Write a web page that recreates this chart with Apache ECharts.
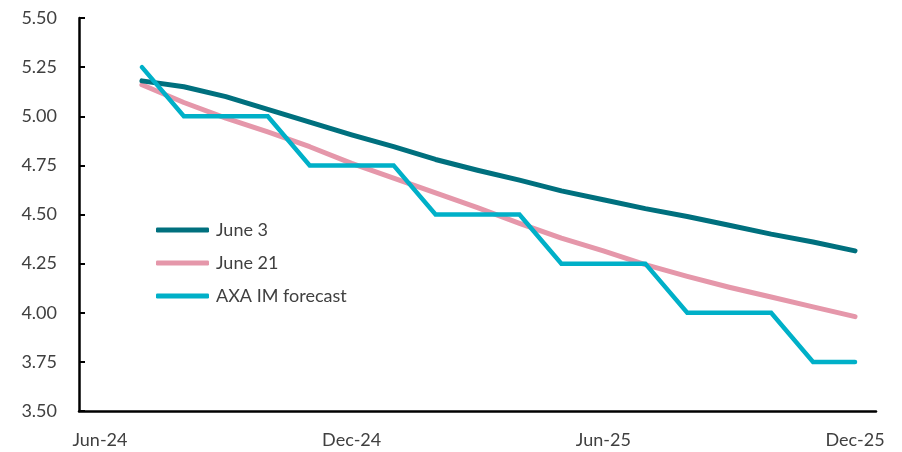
<!doctype html>
<html>
<head>
    <meta charset="utf-8">
    <title>Rate path</title>
    <script src="https://cdn.jsdelivr.net/npm/echarts@6/dist/echarts.min.js"></script>
    <style>
        html, body { margin: 0; padding: 0; background: #fff; }
        #container { width: 902px; height: 452px; }
    </style>
</head>
<body>
<div id="container"></div>
<script type="text/javascript">
    // months on the axis, Jun-24 .. Dec-25
    var months = ['Jun-24', 'Jul-24', 'Aug-24', 'Sep-24', 'Oct-24', 'Nov-24', 'Dec-24',
        'Jan-25', 'Feb-25', 'Mar-25', 'Apr-25', 'May-25', 'Jun-25',
        'Jul-25', 'Aug-25', 'Sep-25', 'Oct-25', 'Nov-25', 'Dec-25'];

    // series start in Jul-24, so first slot is empty
    var june3 = [null, 5.18, 5.15, 5.10, 5.035, 4.97, 4.905, 4.845, 4.78, 4.725, 4.675,
        4.62, 4.575, 4.53, 4.49, 4.445, 4.40, 4.36, 4.315];
    var june21 = [null, 5.16, 5.07, 4.99, 4.92, 4.845, 4.76, 4.685, 4.61, 4.535, 4.455,
        4.38, 4.315, 4.245, 4.185, 4.13, 4.08, 4.03, 3.98];
    var axaForecast = [null, 5.25, 5.00, 5.00, 5.00, 4.75, 4.75, 4.75, 4.50, 4.50, 4.50,
        4.25, 4.25, 4.25, 4.00, 4.00, 4.00, 3.75, 3.75];

    var textColor = '#404040';
    var font = 'Lato';

    var myChart = echarts.init(document.getElementById('container'));

    var option = {
        animation: false,
        backgroundColor: '#fff',
        grid: { left: 79, right: 26, top: 18, bottom: 41 },
        legend: {
            orient: 'vertical',
            left: 156,
            top: 221,
            padding: 0,
            icon: 'roundRect',
            itemWidth: 53,
            itemHeight: 5,
            itemGap: 15,
            data: ['June 3', 'June 21', 'AXA IM forecast'],
            textStyle: { color: textColor, fontSize: 18, lineHeight: 18, fontFamily: font, padding: [0, 0, 0, 2] }
        },
        xAxis: {
            type: 'category',
            data: months,
            boundaryGap: true,
            axisLine: { lineStyle: { color: '#000', width: 2.5 } },
            axisTick: { inside: true, length: 6, interval: 5, lineStyle: { color: '#000', width: 2 } },
            axisLabel: { interval: 5, color: textColor, fontSize: 18, fontFamily: font, margin: 20 },
            splitLine: { show: false }
        },
        yAxis: {
            type: 'value',
            min: 3.5,
            max: 5.5,
            interval: 0.25,
            axisLine: { show: true, lineStyle: { color: '#000', width: 2.5 } },
            axisTick: { show: true, inside: true, length: 6, lineStyle: { color: '#000', width: 2 } },
            axisLabel: {
                color: textColor, fontSize: 18, fontFamily: font, margin: 22,
                formatter: function (v) { return v.toFixed(2); }
            },
            splitLine: { show: false }
        },
        series: [
            {
                name: 'June 3',
                type: 'line',
                data: june3,
                symbol: 'none',
                color: '#00707E',
                lineStyle: { width: 5, color: '#00707E', cap: 'round', join: 'round' },
                z: 3
            },
            {
                name: 'June 21',
                type: 'line',
                data: june21,
                symbol: 'none',
                color: '#E597AA',
                lineStyle: { width: 5, color: '#E597AA', cap: 'round', join: 'round' },
                z: 2
            },
            {
                name: 'AXA IM forecast',
                type: 'line',
                data: axaForecast,
                symbol: 'none',
                color: '#00B0C8',
                lineStyle: { width: 4.5, color: '#00B0C8', cap: 'round', join: 'miter' },
                z: 4
            }
        ]
    };

    myChart.setOption(option);
</script>
</body>
</html>
